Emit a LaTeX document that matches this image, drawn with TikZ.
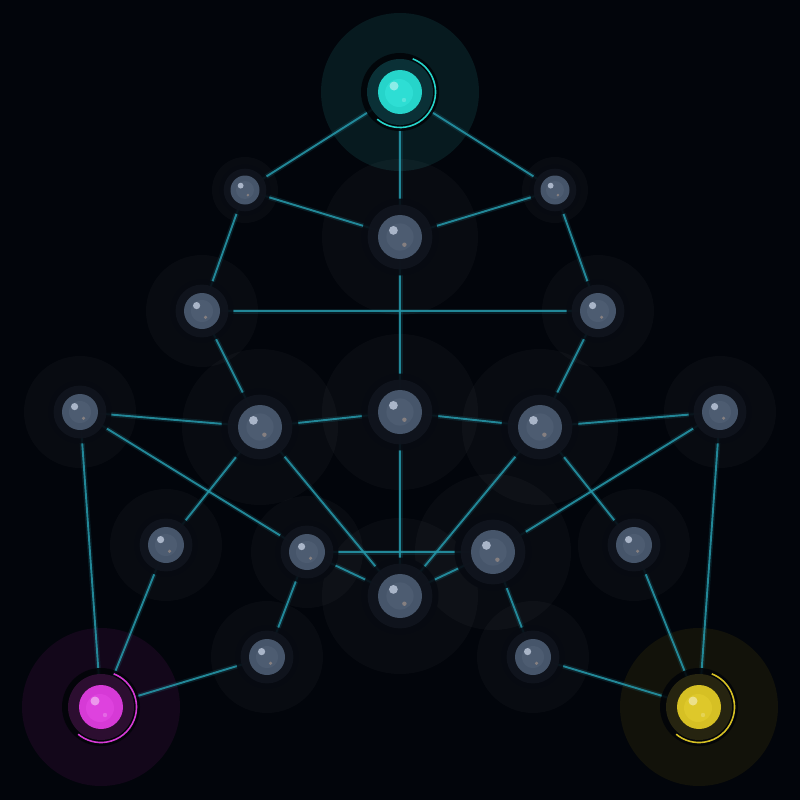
\documentclass[tikz,border=0pt]{standalone}
\definecolor{bg}{HTML}{02050B}
\definecolor{edgec}{HTML}{2696A8}
\definecolor{diskc}{HTML}{070A11}
\definecolor{ringc}{HTML}{10141D}
\definecolor{corec}{HTML}{46556A}
\definecolor{innerc}{HTML}{4D5C71}
\definecolor{hic}{HTML}{A9B5C8}
\definecolor{dotc}{HTML}{857F80}
\definecolor{cyanc}{HTML}{26D4CA}
\definecolor{cyanin}{HTML}{2EDED4}
\definecolor{cyanring}{HTML}{0A3036}
\definecolor{cyanglow}{HTML}{071A1F}
\definecolor{magc}{HTML}{D63AD6}
\definecolor{magin}{HTML}{DE42DE}
\definecolor{magring}{HTML}{2C0E30}
\definecolor{magglow}{HTML}{13071A}
\definecolor{yelc}{HTML}{D6C024}
\definecolor{yelin}{HTML}{DEC82A}
\definecolor{yelring}{HTML}{262410}
\definecolor{yelglow}{HTML}{12120A}
\tikzset{
  glowg/.style={fill=white, fill opacity=0.028},
  edgehalo/.style={draw=edgec, line width=5pt, opacity=0.16},
  edgeline/.style={draw=edgec, line width=1.9pt, opacity=0.88},
}
% gray node: #1 name, #2 core radius
\newcommand\gnode[2]{%
  \fill[diskc, opacity=0.9] (#1) circle[radius=1.75*#2 pt];
  \fill[ringc, opacity=0.92] (#1) circle[radius=1.47*#2 pt];
  \fill[corec] (#1) circle[radius=#2 pt];
  \fill[innerc] (#1) circle[radius=0.62*#2 pt];
  \fill[hic] (#1) ++(-0.3*#2,-0.3*#2) circle[radius=0.2*#2 pt];
  \fill[dotc] (#1) ++(0.2*#2,0.35*#2) circle[radius=0.1*#2 pt];
}
% accent node: #1 name, #2 core, #3 inner, #4 ring
\newcommand\anode[4]{%
  \fill[bg!70!black, opacity=0.9] (#1) circle[radius=39pt];
  \fill[#4] (#1) circle[radius=33pt];
  \fill[#2] (#1) circle[radius=22pt];
  \fill[#3] (#1) ++(-1,1) circle[radius=14pt];
  \fill[white, opacity=0.45] (#1) ++(-6,-6) circle[radius=4.5pt];
  \fill[white, opacity=0.2] (#1) ++(4,8) circle[radius=2.2pt];
  \begin{scope}[shift={(#1)}]
    \draw[#2, line width=1.6pt] (69:35.5pt) arc[start angle=69, end angle=-130, radius=35.5pt];
  \end{scope}
}
\begin{document}
\begin{tikzpicture}[x=1pt,y=-1pt]
\fill[bg] (0,0) rectangle (800,800);
\useasboundingbox (0,0) rectangle (800,800);
% positions
\coordinate (T) at (400,92);
\coordinate (A) at (245,190);
\coordinate (B) at (400,237);
\coordinate (C) at (555,190);
\coordinate (D) at (202,311);
\coordinate (E) at (598,311);
\coordinate (F) at (80,412);
\coordinate (G) at (260,427);
\coordinate (H) at (400,412);
\coordinate (I) at (540,427);
\coordinate (J) at (720,412);
\coordinate (K) at (166,545);
\coordinate (L) at (307,552);
\coordinate (M) at (493,552);
\coordinate (N) at (634,545);
\coordinate (O) at (400,596);
\coordinate (P) at (267,657);
\coordinate (Q) at (533,657);
\coordinate (R) at (101,707);
\coordinate (S) at (699,707);
% glows
\fill[cyanglow] (T) circle[radius=79pt];
\fill[magglow] (R) circle[radius=79pt];
\fill[yelglow] (S) circle[radius=79pt];
\foreach \n in {A,C} \fill[glowg] (\n) circle[radius=33pt];
\foreach \n in {D,E,F,J,K,L,N,P,Q} \fill[glowg] (\n) circle[radius=56pt];
\foreach \n in {B,G,H,I,M,O} \fill[glowg] (\n) circle[radius=78pt];
% edges
\foreach \a/\b in {T/A,T/C,T/B,A/B,C/B,A/D,C/E,D/E,B/H,D/G,E/I,F/G,G/H,H/I,I/J,F/L,F/R,G/K,G/O,H/O,I/O,I/N,J/M,J/S,L/M,L/O,M/O,K/R,L/P,M/Q,P/R,Q/S,N/S}{
  \draw[edgehalo] (\a) -- (\b);
  \draw[edgeline] (\a) -- (\b);
}
% nodes
\gnode{A}{14.5}
\gnode{C}{14.5}
\foreach \n in {D,E,F,J,K,L,N,P,Q} {\gnode{\n}{18}}
\foreach \n in {B,G,H,I,M,O} {\gnode{\n}{22}}
\anode{T}{cyanc}{cyanin}{cyanring}
\anode{R}{magc}{magin}{magring}
\anode{S}{yelc}{yelin}{yelring}
\end{tikzpicture}
\end{document}
